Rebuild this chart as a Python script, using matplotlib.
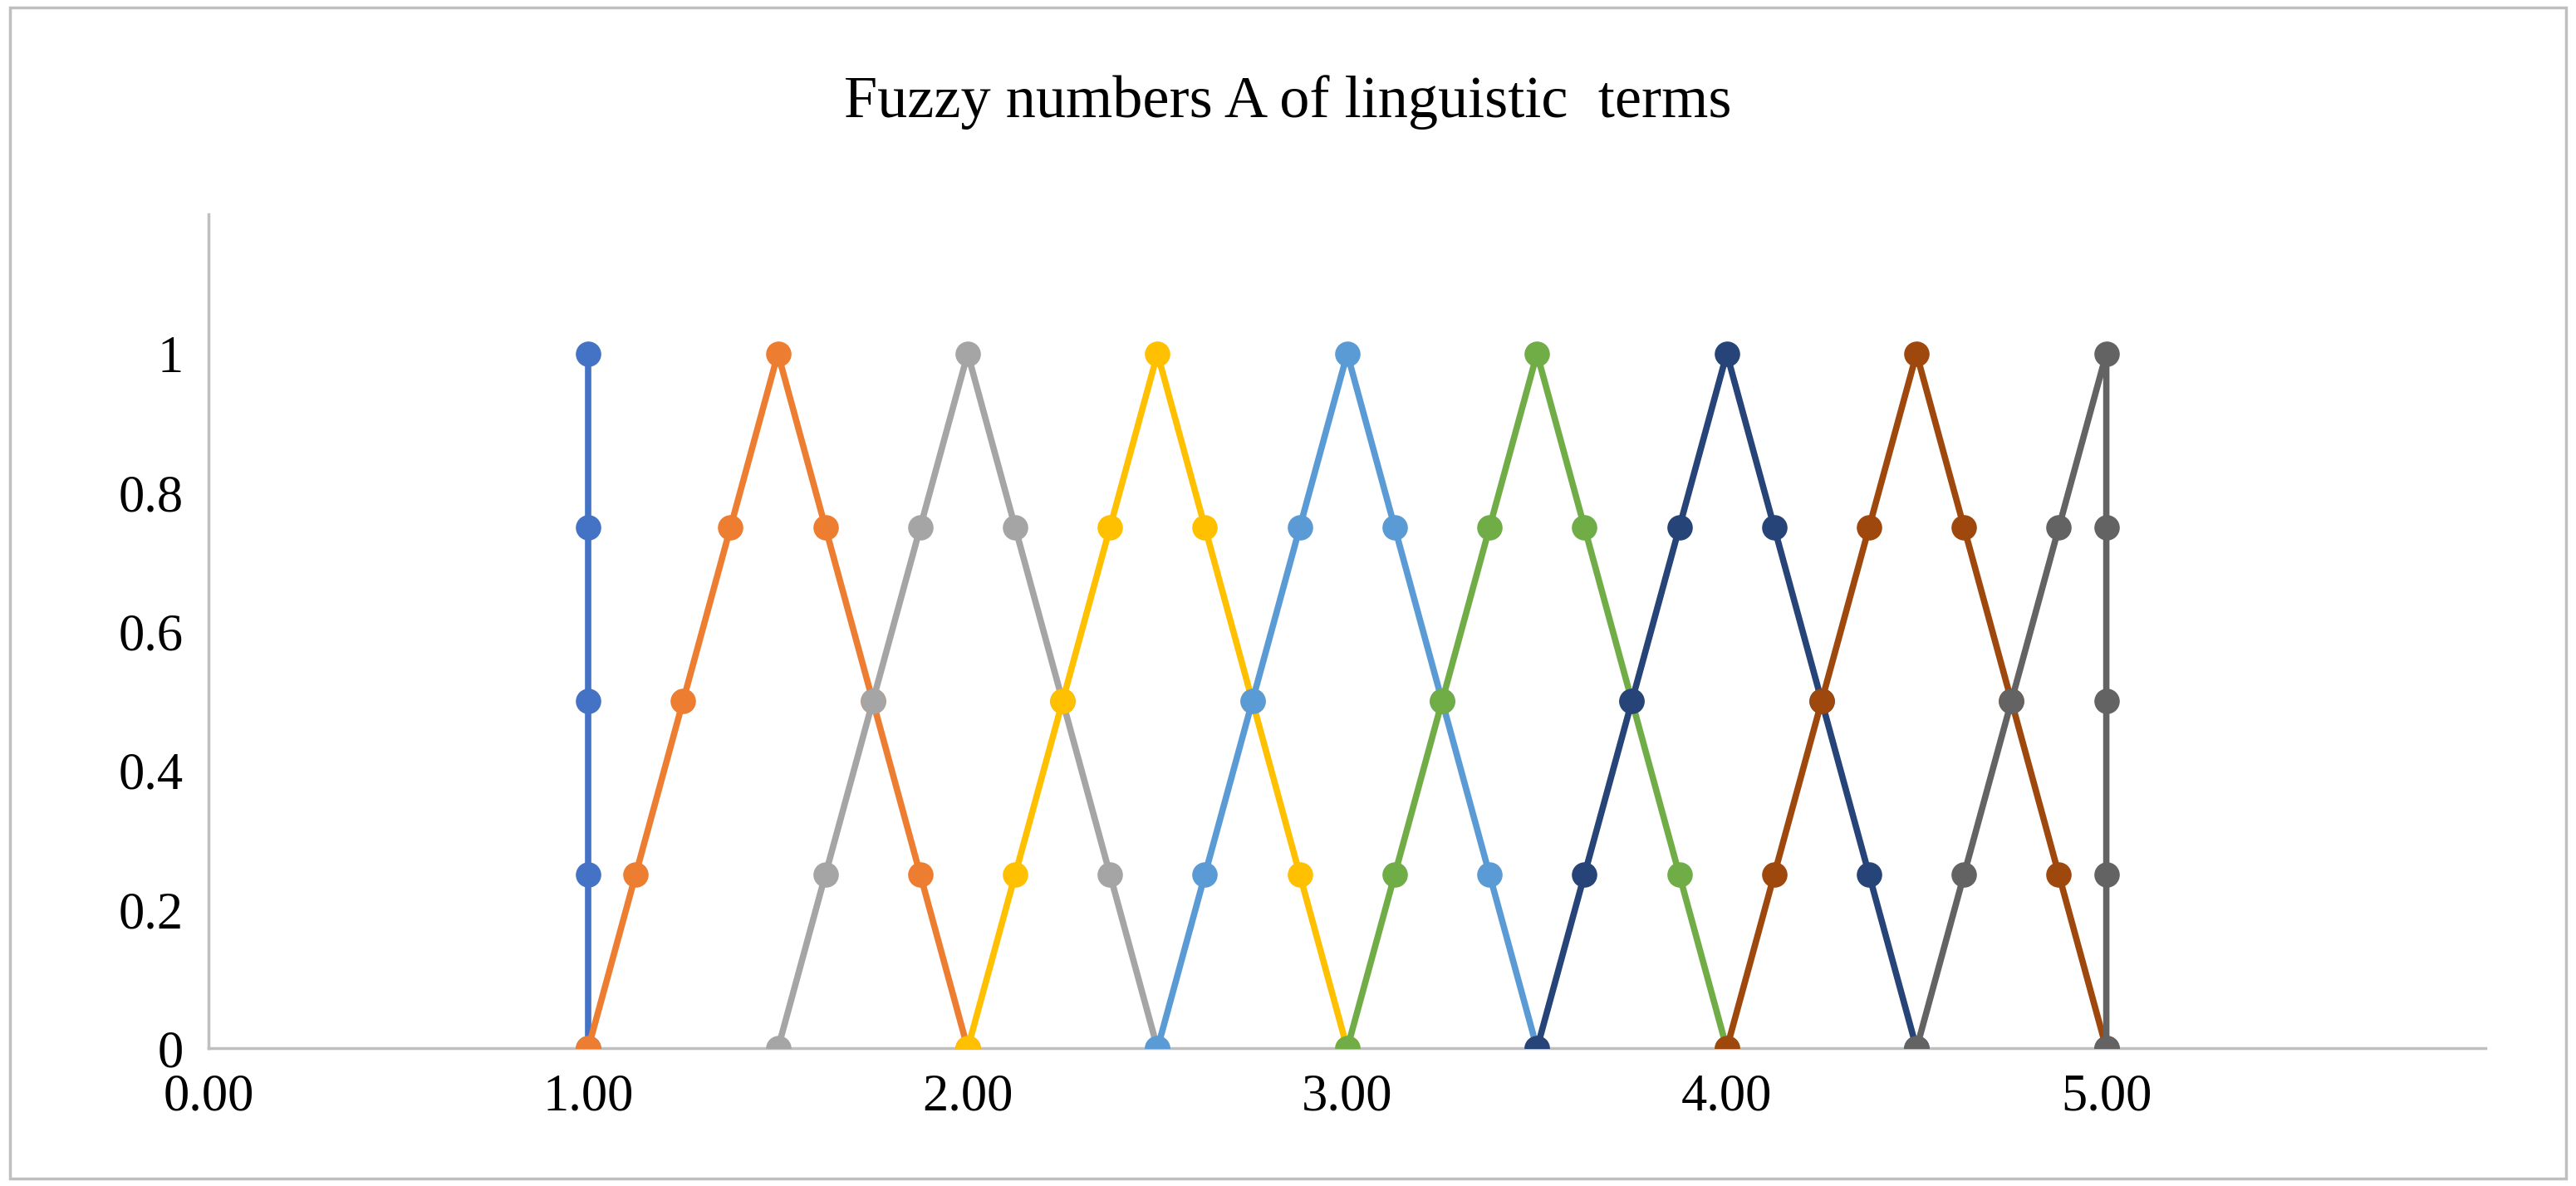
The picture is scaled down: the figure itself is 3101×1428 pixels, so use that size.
import matplotlib.pyplot as plt
from matplotlib.patches import Rectangle

plt.rcParams['font.family'] = ['Liberation Serif', 'DejaVu Serif']

# y values shared by every term
levels = [0, 0.25, 0.5, 0.75, 1, 0.75, 0.5, 0.25, 0]

# term 1: vertical at 1.00
x1 = [1, 1, 1, 1, 1]
y1 = [0, 0.25, 0.5, 0.75, 1]
# triangular terms, peaks at 1.5 ... 4.5
tri_x = [
    [1.0, 1.125, 1.25, 1.375, 1.5, 1.625, 1.75, 1.875, 2.0],
    [1.5, 1.625, 1.75, 1.875, 2.0, 2.125, 2.25, 2.375, 2.5],
    [2.0, 2.125, 2.25, 2.375, 2.5, 2.625, 2.75, 2.875, 3.0],
    [2.5, 2.625, 2.75, 2.875, 3.0, 3.125, 3.25, 3.375, 3.5],
    [3.0, 3.125, 3.25, 3.375, 3.5, 3.625, 3.75, 3.875, 4.0],
    [3.5, 3.625, 3.75, 3.875, 4.0, 4.125, 4.25, 4.375, 4.5],
    [4.0, 4.125, 4.25, 4.375, 4.5, 4.625, 4.75, 4.875, 5.0],
]
# last term: rises to 5.00 then vertical
x9 = [4.5, 4.625, 4.75, 4.875, 5, 5, 5, 5, 5]
y9 = [0, 0.25, 0.5, 0.75, 1, 0.75, 0.5, 0.25, 0]

colors = ['#4472C4', '#ED7D31', '#A5A5A5', '#FFC000', '#5B9BD5',
          '#70AD47', '#264478', '#9E480E', '#636363']

fig = plt.figure(figsize=(31.01, 14.28), dpi=100)
ax = fig.add_axes([0.081, 0.116, 0.884, 0.703])

series = [(x1, y1)] + [(xs, levels) for xs in tri_x] + [(x9, y9)]
for (xs, ys), c in zip(series, colors):
    ax.plot(xs, ys, color=c, lw=5.5, marker='o', ms=21, zorder=3)

ax.set_xlim(0, 6)
ax.set_ylim(0, 1.2)
ax.set_xticks([0, 1, 2, 3, 4, 5])
ax.set_xticklabels(['%.2f' % v for v in [0, 1, 2, 3, 4, 5]])
ax.set_yticks([0, 0.2, 0.4, 0.6, 0.8, 1])
ax.set_yticklabels(['0', '0.2', '0.4', '0.6', '0.8', '1'])
ax.tick_params(length=0, labelsize=45, pad=22)
for s in ['top', 'right']:
    ax.spines[s].set_visible(False)
for s in ['left', 'bottom']:
    ax.spines[s].set_color('#BFBFBF')
    ax.spines[s].set_linewidth(2.5)

fig.text(0.5, 0.914, 'Fuzzy numbers A of linguistic  terms', ha='center',
         va='center', fontsize=52)
fig.patches.append(Rectangle((0.004, 0.006), 0.992, 0.988, transform=fig.transFigure,
                             fill=False, edgecolor='#BFBFBF', lw=2.5))

fig.savefig('out.png', dpi=100)
